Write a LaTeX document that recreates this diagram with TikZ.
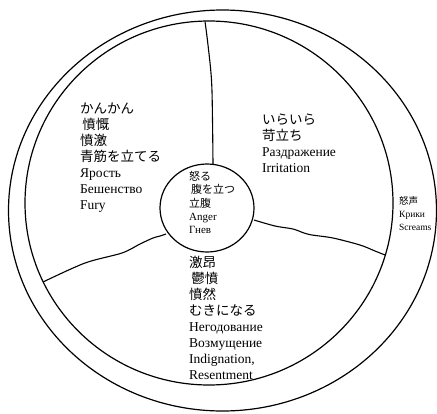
\documentclass[tikz,border=0pt]{standalone}
\usepackage{fontspec}
\usetikzlibrary{shapes.geometric}
\setmainfont{Liberation Serif}
\newfontfamily\cjk{Noto Sans CJK JP}
\begin{document}
\begin{tikzpicture}[x=1pt,y=-1pt,
  ring/.style={draw=black,line width=1.2pt},
  divider/.style={draw=black,line width=1.1pt},
  bigtxt/.style={anchor=north west,inner sep=0pt,align=left,font=\fontsize{13.5}{16}\selectfont},
  midtxt/.style={anchor=north west,inner sep=0pt,align=left,font=\fontsize{11}{13.3}\selectfont},
  smalltxt/.style={anchor=north west,inner sep=0pt,align=left,font=\fontsize{9.5}{13}\selectfont}]
\useasboundingbox (0,0) rectangle (437,413);
\fill[white] (0,0) rectangle (437,413);
% rings
\draw[ring] (222.5,210.5) ellipse [x radius=214, y radius=200.5];
\draw[ring] (209,203) ellipse [x radius=184, y radius=182];
\node[ring,ellipse,minimum width=94pt,minimum height=88pt,inner sep=0pt] (core) at (207,208) {};
% dividers
\coordinate (t0) at (213,164);
\coordinate (t1) at (205,21.5);
\coordinate (r0) at (254,220);
\coordinate (r1) at (385,255);
\coordinate (l0) at (166,234);
\coordinate (l1) at (43,282);
\draw[divider] plot[smooth,tension=0.6] coordinates {(t0) (212.5,120) (211.5,80) (208,45) (t1)};
\draw[divider] plot[smooth,tension=0.5] coordinates {(r0) (275,226) (293,229) (304,233) (312,235) (333,238) (360,245) (375,251) (r1)};
\draw[divider] plot[smooth,tension=0.5] coordinates {(l0) (160,236) (153,238) (140,244) (122,253) (85,263) (l1)};
% texts
\node[bigtxt] (fury) at (80,103) {{\cjk かんかん}\\{\cjk\,憤慨}\\{\cjk 憤激}\\{\cjk 青筋を立てる}\\Ярость\\Бешенство\\Fury};
\node[bigtxt] (irr) at (262,114) {{\cjk いらいら}\\{\cjk 苛立ち}\\Раздражение\\Irritation};
\node[midtxt] (anger) at (189,171) {{\cjk 怒る}\\{\cjk\,腹を立つ}\\{\cjk 立腹}\\Anger\\Гнев};
\node[bigtxt] (indig) at (189,256) {{\cjk 激昂}\\{\cjk\,鬱憤}\\{\cjk 憤然}\\{\cjk むきになる}\\Негодование\\Возмущение\\Indignation,\\Resentment};
\node[smalltxt] (scr) at (399,196) {{\cjk 怒声}\\Крики\\Screams};
\end{tikzpicture}
\end{document}
